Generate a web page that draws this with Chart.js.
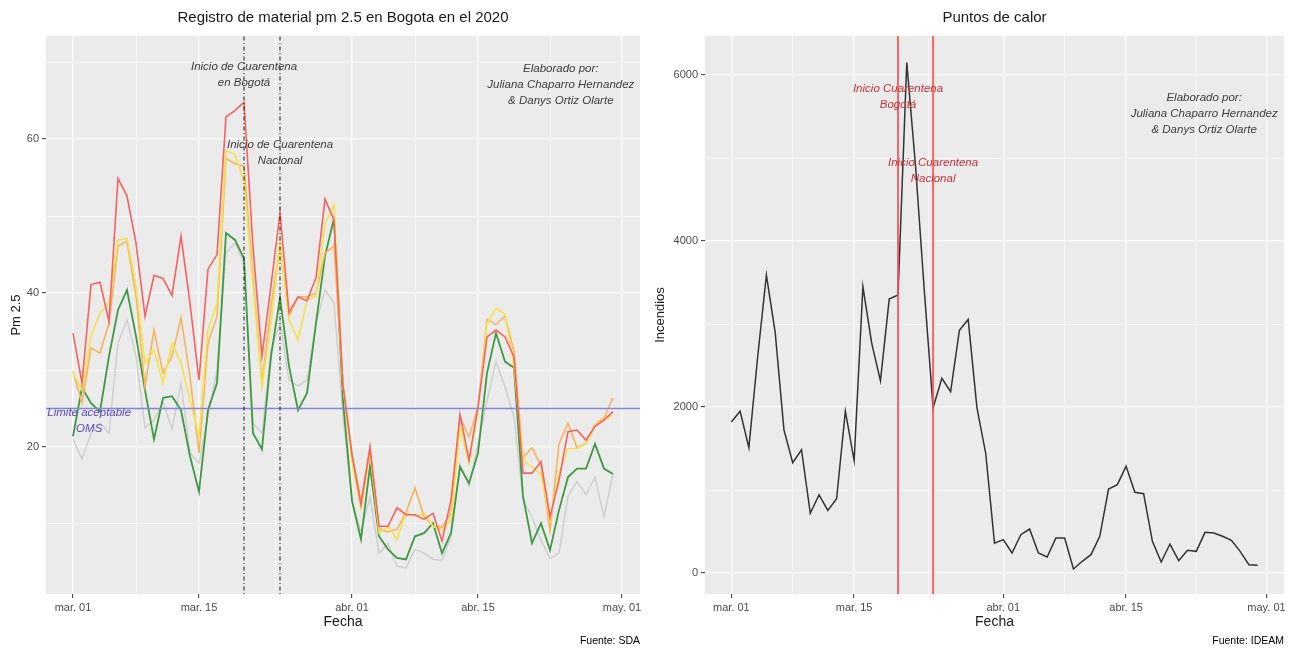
<!DOCTYPE html>
<html>
<head>
<meta charset="utf-8">
<script src="https://cdn.jsdelivr.net/npm/chart.js@4.4.0/dist/chart.umd.min.js"></script>
<style>
  html, body { margin: 0; padding: 0; background: #ffffff; }
  #wrap { position: relative; width: 1290px; height: 648px; }
  canvas { position: absolute; top: 0; }
  #pm { left: 0; }
  #calor { left: 645px; }
</style>
</head>
<body>
<div id="wrap">
  <canvas id="pm" width="645" height="648"></canvas>
  <canvas id="calor" width="645" height="648"></canvas>
</div>
<script>
// ===== datos =====
// dias desde el 1 de marzo de 2020 (0 = mar. 01, 60 = abr. 30)
const dias = Array.from({ length: 61 }, (_, i) => i);

const xTickDias = [0, 14, 31, 45, 61];
const xTickEtiquetas = ["mar. 01", "mar. 15", "abr. 01", "abr. 15", "may. 01"];
const xGrid = [0, 7, 14, 22.5, 31, 38, 45, 53, 61];

// pm 2.5 (cinco series)
const pmRojo = [34.8, 28.3, 41.1, 41.4, 36.3, 54.9, 52.6, 46.5, 37.0, 42.3, 41.9, 39.7, 47.4, 38.7, 28.7, 43.1, 45.0, 62.9, 63.7, 64.8,
  46.0, 31.8, 41.0, 50.4, 37.5, 39.5, 39.0, 42.0, 52.2, 49.5,
  28.0, 19.0, 12.5, 19.9, 9.7, 9.7, 12.1, 11.2, 11.2, 10.6,
  11.4, 7.8, 13.1, 24.2, 18.3, 25.2, 34.3, 35.2, 34.3, 31.7,
  16.6, 16.6, 18.1, 10.9, 15.7, 22.0, 22.2, 20.9, 22.7, 23.5, 24.6];
const pmNaranja = [29.8, 25.7, 32.9, 32.2, 36.1, 46.1, 46.7, 39.6, 27.9, 35.2, 29.6, 31.8, 36.8, 29.2, 19.2, 33.5, 37.0, 57.5, 56.8, 56.5,
  42.0, 28.3, 38.3, 46.1, 37.0, 39.5, 39.5, 40.0, 45.2, 46.1,
  28.0, 19.0, 13.0, 20.0, 9.3, 9.0, 9.3, 11.5, 14.7, 11.0,
  9.7, 9.6, 11.4, 23.9, 21.3, 25.2, 36.6, 35.9, 37.0, 32.4,
  18.6, 19.9, 17.5, 9.1, 20.4, 23.1, 19.9, 20.5, 22.9, 23.8, 26.4];
const pmAmarillo = [29.6, 27.4, 34.4, 37.4, 38.7, 46.9, 47.1, 40.9, 30.9, 32.6, 28.3, 33.5, 30.9, 26.1, 21.4, 35.2, 38.7, 58.5, 58.0, 54.5,
  41.0, 27.9, 36.1, 46.5, 36.5, 33.9, 39.1, 39.6, 49.0, 51.5,
  28.0, 18.0, 12.0, 19.5, 8.8, 9.7, 8.0, 11.4, 11.0, 11.4,
  9.7, 9.2, 10.5, 22.6, 17.9, 24.8, 36.0, 38.0, 37.3, 30.5,
  18.3, 17.4, 16.4, 10.5, 16.6, 19.8, 19.8, 20.4, 22.8, 23.6, 24.1];
const pmVerde = [21.4, 27.7, 25.7, 24.6, 31.8, 37.8, 40.4, 34.4, 27.4, 21.0, 26.4, 26.6, 24.8, 18.8, 14.2, 24.8, 28.3, 47.8, 46.9, 44.5,
  21.8, 19.7, 31.8, 39.4, 30.5, 24.8, 27.0, 36.1, 44.8, 49.7,
  26.0, 13.0, 8.0, 17.5, 8.4, 6.7, 5.6, 5.4, 8.4, 8.8,
  10.1, 6.2, 8.8, 17.4, 15.3, 19.2, 29.6, 34.8, 31.1, 30.3,
  13.6, 7.5, 10.1, 6.6, 11.8, 16.1, 17.2, 17.2, 20.4, 17.2, 16.5];
const pmGris = [21.0, 18.4, 21.8, 23.1, 21.8, 33.5, 36.5, 31.8, 22.5, 23.5, 25.9, 22.3, 28.3, 19.2, 17.9, 24.0, 30.0, 45.2, 46.5, 43.9,
  23.1, 21.8, 32.6, 36.1, 28.7, 27.9, 28.7, 36.1, 40.4, 38.7,
  24.0, 13.0, 9.0, 13.5, 6.2, 7.5, 4.5, 4.3, 6.7, 6.2,
  5.4, 5.3, 8.4, 17.8, 14.9, 20.4, 26.0, 31.1, 27.8, 23.9,
  13.1, 10.9, 7.9, 5.5, 6.2, 13.6, 15.5, 13.8, 16.1, 10.9, 16.5];

const pmGrid = [10, 20, 30, 40, 50, 60, 70];
const pmTicks = [20, 40, 60];
const pmEtiquetas = ["20", "40", "60"];
const limiteOMS = 25;

// puntos de calor (incendios)
const incendios = [1820, 1950, 1510, 2600, 3590, 2900, 1725, 1330, 1485, 720, 940, 755, 895, 1950, 1355, 3450, 2770, 2315, 3300, 3350,
  6150, 4900, 3400, 1990, 2345, 2185, 2925, 3055, 1990, 1440,
  360, 402, 241, 462, 530, 241, 193, 422, 422, 48,
  141, 221, 442, 1012, 1064, 1285, 972, 956, 382, 133,
  349, 149, 273, 261, 490, 482, 442, 394, 261, 100, 92];

const calorGrid = [0, 1000, 2000, 3000, 4000, 5000, 6000];
const calorTicks = [0, 2000, 4000, 6000];
const calorEtiquetas = ["0", "2000", "4000", "6000"];

// inicio de cuarentena: Bogotá (mar. 20) y Nacional (mar. 24)
const cuarentena = [19, 23];

// ===== estilo comun (theme_grey) =====
const FUENTE = "'Liberation Sans', Arial, Helvetica, sans-serif";
Chart.defaults.font.family = FUENTE;
Chart.defaults.animation = false;

function puntos(serie) {
  return dias.map((d, i) => ({ x: d, y: serie[i] }));
}

function escala(min, max, valores, principales, etiquetas, ajuste) {
  return {
    type: "linear",
    min: min,
    max: max,
    afterBuildTicks: (s) => { s.ticks = valores.map(v => ({ value: v })); },
    afterFit: ajuste,
    ticks: {
      autoSkip: false,
      maxRotation: 0,
      color: "#4d4d4d",
      font: { size: 11 },
      padding: 3,
      callback: (v) => {
        const i = principales.indexOf(v);
        return i >= 0 ? etiquetas[i] : "";
      }
    },
    grid: {
      color: "#ffffff",
      lineWidth: (c) => (c.tick && principales.includes(c.tick.value)) ? 1.3 : 0.6,
      tickColor: (c) => (c.tick && principales.includes(c.tick.value)) ? "#333333" : "rgba(0,0,0,0)",
      tickLength: 4,
      tickWidth: 1
    },
    border: { display: false }
  };
}

// fondo gris y textos
function textos(cfg) {
  return {
    id: "textos",
    beforeDraw(chart) {
      const a = chart.chartArea;
      const ctx = chart.ctx;
      ctx.save();
      ctx.fillStyle = "#ebebeb";
      ctx.fillRect(a.left, a.top, a.right - a.left, a.bottom - a.top);
      ctx.restore();
    },
    afterDatasetsDraw(chart) {
      const ctx = chart.ctx;
      const sx = chart.scales.x, sy = chart.scales.y;
      ctx.save();
      ctx.textAlign = "center";
      ctx.textBaseline = "middle";
      for (const n of cfg.notas) {
        ctx.font = "italic 11.5px " + FUENTE;
        ctx.fillStyle = n.color;
        const px = sx.getPixelForValue(n.x);
        const py = sy.getPixelForValue(n.y);
        const h = 16;
        const y0 = py - (n.lineas.length - 1) * h / 2;
        n.lineas.forEach((t, k) => ctx.fillText(t, px, y0 + k * h));
      }
      ctx.restore();
    },
    afterDraw(chart) {
      const a = chart.chartArea;
      const ctx = chart.ctx;
      const cx = (a.left + a.right) / 2;
      ctx.save();
      ctx.textAlign = "center";
      ctx.textBaseline = "middle";
      ctx.fillStyle = "#1a1a1a";
      ctx.font = "15px " + FUENTE;
      ctx.fillText(cfg.titulo, cx, 18);
      ctx.font = "14px " + FUENTE;
      ctx.fillText("Fecha", cx, 622);
      ctx.save();
      ctx.translate(cfg.yTituloX, (a.top + a.bottom) / 2);
      ctx.rotate(-Math.PI / 2);
      ctx.font = "13px " + FUENTE;
      ctx.fillText(cfg.yTitulo, 0, 0);
      ctx.restore();
      ctx.textAlign = "right";
      ctx.fillStyle = "#000000";
      ctx.font = "10.5px " + FUENTE;
      ctx.fillText(cfg.fuente, a.right, 641);
      ctx.restore();
    }
  };
}

const elaborado = ["Elaborado por:", "Juliana Chaparro Hernandez", "& Danys Ortiz Olarte"];

// ===== grafico pm 2.5 =====
const pmMin = 0.9, pmMax = 73.4;
new Chart(document.getElementById("pm"), {
  type: "line",
  data: {
    datasets: [
      ...cuarentena.map(d => ({
        data: [{ x: d, y: pmMin }, { x: d, y: pmMax }],
        borderColor: "#1a1a1a", borderWidth: 1, borderDash: [1, 2.5, 4, 2.5], order: 0
      })),
      { data: [{ x: -3, y: limiteOMS }, { x: 63, y: limiteOMS }], borderColor: "#8585dd", borderWidth: 1.3, order: 0 },
      { data: puntos(pmRojo), borderColor: "#f8615f", borderWidth: 1.6, order: 1 },
      { data: puntos(pmAmarillo), borderColor: "#f6e24a", borderWidth: 1.6, order: 2 },
      { data: puntos(pmNaranja), borderColor: "#f8b45c", borderWidth: 1.6, order: 3 },
      { data: puntos(pmVerde), borderColor: "#3e9a40", borderWidth: 1.8, order: 4 },
      { data: puntos(pmGris), borderColor: "#cecece", borderWidth: 1.4, order: 5 }
    ]
  },
  options: {
    responsive: false,
    elements: { point: { radius: 0 }, line: { tension: 0, fill: false } },
    layout: { padding: { top: 36, right: 5, left: 0, bottom: 0 } },
    plugins: { legend: { display: false }, title: { display: false }, tooltip: { enabled: false } },
    scales: {
      x: escala(-3, 63, xGrid, xTickDias, xTickEtiquetas, (s) => { s.height = 54; }),
      y: escala(pmMin, pmMax, pmGrid, pmTicks, pmEtiquetas, (s) => { s.width = 46; })
    }
  },
  plugins: [textos({
    titulo: "Registro de material pm 2.5 en Bogota en el 2020",
    yTitulo: "Pm 2.5",
    yTituloX: 16,
    fuente: "Fuente: SDA",
    notas: [
      { x: 19, y: 68.3, lineas: ["Inicio de Cuarentena", "en Bogotá"], color: "#3d3d3d" },
      { x: 23, y: 58.2, lineas: ["Inicio de Cuarentena", "Nacional"], color: "#3d3d3d" },
      { x: 54.2, y: 67.1, lineas: elaborado, color: "#3d3d3d" },
      { x: 1.8, y: 23.4, lineas: ["Limite aceptable", "OMS"], color: "#5a48c8" }
    ]
  })]
});

// ===== grafico puntos de calor =====
const calMin = -253, calMax = 6470;
new Chart(document.getElementById("calor"), {
  type: "line",
  data: {
    datasets: [
      ...cuarentena.map(d => ({
        data: [{ x: d, y: calMin }, { x: d, y: calMax }],
        borderColor: "rgba(244,80,80,0.85)", borderWidth: 2, order: 0
      })),
      { data: puntos(incendios), borderColor: "#333333", borderWidth: 1.5, order: 1 }
    ]
  },
  options: {
    responsive: false,
    elements: { point: { radius: 0 }, line: { tension: 0, fill: false } },
    layout: { padding: { top: 36, right: 6, left: 0, bottom: 0 } },
    plugins: { legend: { display: false }, title: { display: false }, tooltip: { enabled: false } },
    scales: {
      x: escala(-3, 63, xGrid, xTickDias, xTickEtiquetas, (s) => { s.height = 54; }),
      y: escala(calMin, calMax, calorGrid, calorTicks, calorEtiquetas, (s) => { s.width = 60; })
    }
  },
  plugins: [textos({
    titulo: "Puntos de calor",
    yTitulo: "Incendios",
    yTituloX: 15,
    fuente: "Fuente: IDEAM",
    notas: [
      { x: 19, y: 5741, lineas: ["Inicio Cuarentena", "Bogotá"], color: "#c8323a" },
      { x: 23, y: 4843, lineas: ["Inicio Cuarentena", "Nacional"], color: "#c8323a" },
      { x: 53.9, y: 5530, lineas: elaborado, color: "#3d3d3d" }
    ]
  })]
});
</script>
</body>
</html>
